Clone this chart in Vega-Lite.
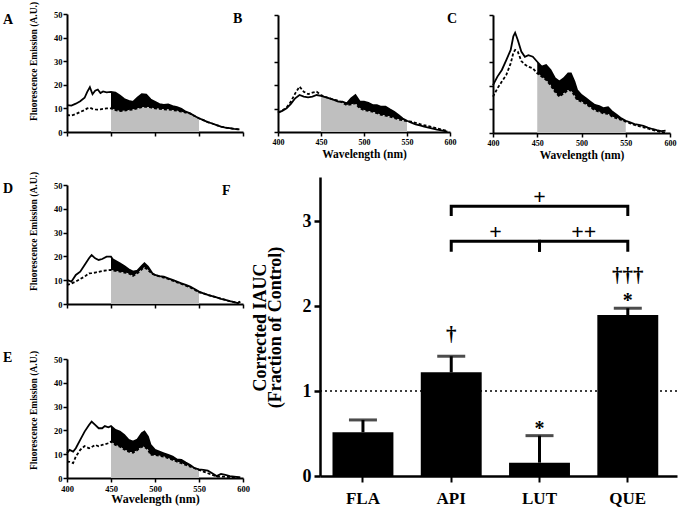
{
"$schema":"https://vega.github.io/schema/vega-lite/v6.json",
"width":678,"height":511,
"autosize":"none",
"padding":0,
"background":"white",
"config":{
 "font":"Liberation Serif",
 "view":{"stroke":null},
 "axis":{"domainColor":"black","tickColor":"black","labelColor":"black","titleColor":"black","labelFontWeight":"bold","titleFontWeight":"bold","grid":false,"labelFont":"Liberation Serif","titleFont":"Liberation Serif","labelFlush":false,"labelOverlap":false,"domainWidth":2,"tickWidth":1.5,"tickSize":4,"labelFontSize":8.5}
},
"datasets":{
 "spectra":[
  {"panel":"A","nm":400,"solid":11.4,"dashed":7.2},{"panel":"A","nm":405,"solid":11.2,"dashed":7.0},{"panel":"A","nm":410,"solid":12.0,"dashed":7.6},{"panel":"A","nm":415,"solid":13.0,"dashed":8.5},{"panel":"A","nm":420,"solid":14.5,"dashed":9.3},{"panel":"A","nm":423,"solid":17.0,"dashed":10.0},{"panel":"A","nm":426,"solid":19.0,"dashed":10.3},{"panel":"A","nm":429,"solid":16.0,"dashed":9.8},{"panel":"A","nm":432,"solid":17.5,"dashed":9.6},{"panel":"A","nm":435,"solid":18.0,"dashed":9.5},{"panel":"A","nm":438,"solid":16.5,"dashed":9.6},{"panel":"A","nm":441,"solid":17.2,"dashed":9.8},{"panel":"A","nm":445,"solid":16.8,"dashed":10.0},{"panel":"A","nm":450,"solid":17.0,"dashed":10.0},{"panel":"A","nm":455,"solid":16.7,"dashed":9.3},{"panel":"A","nm":460,"solid":15.5,"dashed":8.9},{"panel":"A","nm":465,"solid":14.0,"dashed":9.0},{"panel":"A","nm":470,"solid":13.2,"dashed":9.3},{"panel":"A","nm":475,"solid":12.8,"dashed":9.5},{"panel":"A","nm":480,"solid":14.5,"dashed":10.0},{"panel":"A","nm":485,"solid":16.0,"dashed":10.5},{"panel":"A","nm":490,"solid":15.8,"dashed":10.7},{"panel":"A","nm":495,"solid":13.8,"dashed":10.4},{"panel":"A","nm":500,"solid":12.8,"dashed":10.0},{"panel":"A","nm":505,"solid":11.8,"dashed":9.8},{"panel":"A","nm":510,"solid":11.5,"dashed":9.6},{"panel":"A","nm":515,"solid":11.7,"dashed":9.5},{"panel":"A","nm":520,"solid":11.0,"dashed":9.3},{"panel":"A","nm":525,"solid":10.5,"dashed":9.0},{"panel":"A","nm":530,"solid":9.8,"dashed":8.6},{"panel":"A","nm":535,"solid":8.6,"dashed":8.2},{"panel":"A","nm":540,"solid":7.9,"dashed":7.8},{"panel":"A","nm":545,"solid":6.8,"dashed":6.8},{"panel":"A","nm":550,"solid":5.8,"dashed":5.8},{"panel":"A","nm":555,"solid":5.0,"dashed":5.0},{"panel":"A","nm":560,"solid":4.2,"dashed":4.2},{"panel":"A","nm":565,"solid":3.6,"dashed":3.6},{"panel":"A","nm":570,"solid":2.9,"dashed":2.9},{"panel":"A","nm":575,"solid":2.3,"dashed":2.3},{"panel":"A","nm":580,"solid":1.9,"dashed":1.9},{"panel":"A","nm":585,"solid":1.6,"dashed":1.6},{"panel":"A","nm":590,"solid":1.3,"dashed":1.3},{"panel":"A","nm":596,"solid":1.1,"dashed":1.1},
  {"panel":"B","nm":400,"solid":8.3,"dashed":8.3},{"panel":"B","nm":405,"solid":9.0,"dashed":9.2},{"panel":"B","nm":410,"solid":10.1,"dashed":10.5},{"panel":"B","nm":415,"solid":12.0,"dashed":13.0},{"panel":"B","nm":420,"solid":14.4,"dashed":16.5},{"panel":"B","nm":425,"solid":15.8,"dashed":19.4},{"panel":"B","nm":430,"solid":15.1,"dashed":17.2},{"panel":"B","nm":435,"solid":14.8,"dashed":16.2},{"panel":"B","nm":440,"solid":15.1,"dashed":16.8},{"panel":"B","nm":445,"solid":15.8,"dashed":17.2},{"panel":"B","nm":450,"solid":15.4,"dashed":15.8},{"panel":"B","nm":455,"solid":14.9,"dashed":15.0},{"panel":"B","nm":460,"solid":14.4,"dashed":14.4},{"panel":"B","nm":465,"solid":13.7,"dashed":13.8},{"panel":"B","nm":470,"solid":13.0,"dashed":13.4},{"panel":"B","nm":475,"solid":13.0,"dashed":12.5},{"panel":"B","nm":480,"solid":12.3,"dashed":11.5},{"panel":"B","nm":485,"solid":14.4,"dashed":11.8},{"panel":"B","nm":490,"solid":15.8,"dashed":12.3},{"panel":"B","nm":495,"solid":13.0,"dashed":10.1},{"panel":"B","nm":500,"solid":13.0,"dashed":9.4},{"panel":"B","nm":505,"solid":12.5,"dashed":9.0},{"panel":"B","nm":510,"solid":11.5,"dashed":8.7},{"panel":"B","nm":515,"solid":11.5,"dashed":8.0},{"panel":"B","nm":520,"solid":10.8,"dashed":7.3},{"panel":"B","nm":525,"solid":10.8,"dashed":7.0},{"panel":"B","nm":530,"solid":9.7,"dashed":6.6},{"panel":"B","nm":535,"solid":8.7,"dashed":6.0},{"panel":"B","nm":540,"solid":7.3,"dashed":5.4},{"panel":"B","nm":545,"solid":5.8,"dashed":5.0},{"panel":"B","nm":550,"solid":4.8,"dashed":4.6},{"panel":"B","nm":555,"solid":4.0,"dashed":4.4},{"panel":"B","nm":560,"solid":3.3,"dashed":3.9},{"panel":"B","nm":565,"solid":2.8,"dashed":3.4},{"panel":"B","nm":570,"solid":2.3,"dashed":2.9},{"panel":"B","nm":575,"solid":1.9,"dashed":2.5},{"panel":"B","nm":580,"solid":1.4,"dashed":2.0},{"panel":"B","nm":585,"solid":1.0,"dashed":1.5},{"panel":"B","nm":590,"solid":0.7,"dashed":1.1},{"panel":"B","nm":597,"solid":0.2,"dashed":0.4},
  {"panel":"C","nm":400,"solid":20.3,"dashed":15.4},{"panel":"C","nm":405,"solid":23.9,"dashed":18.9},{"panel":"C","nm":410,"solid":26.7,"dashed":21.8},{"panel":"C","nm":415,"solid":30.9,"dashed":24.6},{"panel":"C","nm":420,"solid":35.2,"dashed":29.5},{"panel":"C","nm":423,"solid":41.0,"dashed":34.0},{"panel":"C","nm":425,"solid":42.5,"dashed":35.2},{"panel":"C","nm":428,"solid":39.4,"dashed":34.5},{"panel":"C","nm":432,"solid":34.5,"dashed":30.5},{"panel":"C","nm":436,"solid":32.3,"dashed":29.0},{"panel":"C","nm":440,"solid":33.0,"dashed":28.1},{"panel":"C","nm":445,"solid":32.3,"dashed":27.4},{"panel":"C","nm":450,"solid":30.2,"dashed":25.3},{"panel":"C","nm":455,"solid":28.1,"dashed":23.9},{"panel":"C","nm":460,"solid":28.8,"dashed":22.5},{"panel":"C","nm":465,"solid":26.7,"dashed":20.3},{"panel":"C","nm":470,"solid":23.2,"dashed":17.5},{"panel":"C","nm":475,"solid":21.8,"dashed":15.4},{"panel":"C","nm":480,"solid":23.2,"dashed":16.8},{"panel":"C","nm":485,"solid":25.3,"dashed":18.2},{"panel":"C","nm":488,"solid":25.3,"dashed":18.0},{"panel":"C","nm":492,"solid":21.8,"dashed":16.0},{"panel":"C","nm":495,"solid":18.2,"dashed":14.0},{"panel":"C","nm":500,"solid":16.1,"dashed":13.3},{"panel":"C","nm":505,"solid":14.7,"dashed":12.3},{"panel":"C","nm":510,"solid":13.3,"dashed":10.9},{"panel":"C","nm":515,"solid":11.9,"dashed":9.7},{"panel":"C","nm":520,"solid":11.4,"dashed":9.0},{"panel":"C","nm":525,"solid":10.5,"dashed":8.3},{"panel":"C","nm":530,"solid":10.9,"dashed":8.1},{"panel":"C","nm":535,"solid":9.0,"dashed":6.9},{"panel":"C","nm":540,"solid":7.6,"dashed":6.2},{"panel":"C","nm":545,"solid":6.2,"dashed":5.5},{"panel":"C","nm":550,"solid":5.2,"dashed":4.8},{"panel":"C","nm":555,"solid":4.5,"dashed":4.1},{"panel":"C","nm":560,"solid":3.8,"dashed":3.4},{"panel":"C","nm":565,"solid":3.4,"dashed":2.9},{"panel":"C","nm":570,"solid":3.0,"dashed":2.4},{"panel":"C","nm":575,"solid":2.3,"dashed":1.9},{"panel":"C","nm":580,"solid":1.7,"dashed":1.3},{"panel":"C","nm":585,"solid":1.2,"dashed":0.8},{"panel":"C","nm":590,"solid":0.8,"dashed":0.4},{"panel":"C","nm":595,"solid":1.0,"dashed":0.1},
  {"panel":"D","nm":400,"solid":10.1,"dashed":8.0},{"panel":"D","nm":405,"solid":9.4,"dashed":8.6},{"panel":"D","nm":410,"solid":12.2,"dashed":9.4},{"panel":"D","nm":415,"solid":13.6,"dashed":10.5},{"panel":"D","nm":420,"solid":16.4,"dashed":11.5},{"panel":"D","nm":425,"solid":19.2,"dashed":12.9},{"panel":"D","nm":428,"solid":20.6,"dashed":13.0},{"panel":"D","nm":432,"solid":19.2,"dashed":13.2},{"panel":"D","nm":436,"solid":18.5,"dashed":13.5},{"panel":"D","nm":440,"solid":18.9,"dashed":13.9},{"panel":"D","nm":445,"solid":19.9,"dashed":14.1},{"panel":"D","nm":450,"solid":19.9,"dashed":14.3},{"panel":"D","nm":452,"solid":18.8,"dashed":14.1},{"panel":"D","nm":455,"solid":18.2,"dashed":13.9},{"panel":"D","nm":460,"solid":17.1,"dashed":13.6},{"panel":"D","nm":465,"solid":16.0,"dashed":13.2},{"panel":"D","nm":470,"solid":14.6,"dashed":12.9},{"panel":"D","nm":475,"solid":13.6,"dashed":11.8},{"panel":"D","nm":480,"solid":14.0,"dashed":12.9},{"panel":"D","nm":485,"solid":16.0,"dashed":14.6},{"panel":"D","nm":488,"solid":17.1,"dashed":15.4},{"panel":"D","nm":492,"solid":15.7,"dashed":14.3},{"panel":"D","nm":497,"solid":12.9,"dashed":12.6},{"panel":"D","nm":500,"solid":12.2,"dashed":12.2},{"panel":"D","nm":505,"solid":11.7,"dashed":11.6},{"panel":"D","nm":510,"solid":11.5,"dashed":11.1},{"panel":"D","nm":515,"solid":10.8,"dashed":10.5},{"panel":"D","nm":520,"solid":10.1,"dashed":9.8},{"panel":"D","nm":525,"solid":9.4,"dashed":9.1},{"panel":"D","nm":530,"solid":8.7,"dashed":8.4},{"panel":"D","nm":535,"solid":8.0,"dashed":7.7},{"panel":"D","nm":540,"solid":7.3,"dashed":7.0},{"panel":"D","nm":545,"solid":6.3,"dashed":6.0},{"panel":"D","nm":550,"solid":5.2,"dashed":4.9},{"panel":"D","nm":555,"solid":4.5,"dashed":4.5},{"panel":"D","nm":560,"solid":3.8,"dashed":3.8},{"panel":"D","nm":565,"solid":3.3,"dashed":3.3},{"panel":"D","nm":570,"solid":2.8,"dashed":2.8},{"panel":"D","nm":575,"solid":2.2,"dashed":2.2},{"panel":"D","nm":580,"solid":1.7,"dashed":1.7},{"panel":"D","nm":585,"solid":1.2,"dashed":1.2},{"panel":"D","nm":590,"solid":0.8,"dashed":0.8},{"panel":"D","nm":594,"solid":0.4,"dashed":0.4},{"panel":"D","nm":597,"solid":1.0,"dashed":1.0},
  {"panel":"E","nm":400,"solid":10.4,"dashed":6.9},{"panel":"E","nm":403,"solid":11.8,"dashed":6.8},{"panel":"E","nm":407,"solid":11.1,"dashed":6.3},{"panel":"E","nm":410,"solid":12.5,"dashed":9.0},{"panel":"E","nm":415,"solid":16.0,"dashed":11.8},{"panel":"E","nm":420,"solid":19.5,"dashed":13.4},{"panel":"E","nm":425,"solid":22.3,"dashed":12.5},{"panel":"E","nm":428,"solid":23.7,"dashed":13.0},{"panel":"E","nm":432,"solid":22.3,"dashed":13.9},{"panel":"E","nm":436,"solid":20.9,"dashed":13.3},{"panel":"E","nm":440,"solid":20.9,"dashed":13.9},{"panel":"E","nm":443,"solid":21.8,"dashed":14.2},{"panel":"E","nm":447,"solid":21.3,"dashed":14.6},{"panel":"E","nm":450,"solid":21.8,"dashed":15.3},{"panel":"E","nm":455,"solid":20.2,"dashed":13.9},{"panel":"E","nm":460,"solid":19.5,"dashed":13.2},{"panel":"E","nm":465,"solid":18.1,"dashed":12.0},{"panel":"E","nm":470,"solid":16.0,"dashed":11.1},{"panel":"E","nm":475,"solid":15.3,"dashed":10.6},{"panel":"E","nm":480,"solid":16.2,"dashed":11.8},{"panel":"E","nm":485,"solid":18.8,"dashed":13.2},{"panel":"E","nm":488,"solid":19.5,"dashed":13.0},{"panel":"E","nm":492,"solid":17.4,"dashed":12.0},{"panel":"E","nm":495,"solid":13.9,"dashed":9.7},{"panel":"E","nm":500,"solid":11.8,"dashed":9.7},{"panel":"E","nm":505,"solid":11.1,"dashed":9.3},{"panel":"E","nm":510,"solid":10.4,"dashed":9.0},{"panel":"E","nm":515,"solid":9.7,"dashed":8.3},{"panel":"E","nm":520,"solid":9.0,"dashed":7.6},{"panel":"E","nm":525,"solid":7.8,"dashed":6.9},{"panel":"E","nm":530,"solid":7.6,"dashed":6.2},{"panel":"E","nm":535,"solid":6.5,"dashed":5.5},{"panel":"E","nm":540,"solid":5.5,"dashed":4.8},{"panel":"E","nm":545,"solid":4.1,"dashed":4.1},{"panel":"E","nm":550,"solid":3.6,"dashed":3.4},{"panel":"E","nm":555,"solid":3.4,"dashed":2.7},{"panel":"E","nm":560,"solid":3.1,"dashed":2.0},{"panel":"E","nm":565,"solid":2.0,"dashed":1.3},{"panel":"E","nm":570,"solid":0.8,"dashed":0.6},{"panel":"E","nm":575,"solid":1.7,"dashed":0.6},{"panel":"E","nm":580,"solid":1.3,"dashed":0.6},{"panel":"E","nm":585,"solid":0.8,"dashed":0.4},{"panel":"E","nm":590,"solid":0.6,"dashed":0.3},{"panel":"E","nm":597,"solid":0.3,"dashed":0.1}
 ],
 "bars":[
  {"agent":"FLA","mean":0.515,"upper":0.66},
  {"agent":"API","mean":1.22,"upper":1.41},
  {"agent":"LUT","mean":0.157,"upper":0.475},
  {"agent":"QUE","mean":1.894,"upper":1.975}
 ],
 "brackets":[
  {"bracket":"top","agent":"API","y":3.06,"step":1},{"bracket":"top","agent":"API","y":3.176,"step":2},{"bracket":"top","agent":"QUE","y":3.176,"step":3},{"bracket":"top","agent":"QUE","y":3.06,"step":4},
  {"bracket":"al","agent":"API","y":2.64,"step":1},{"bracket":"al","agent":"API","y":2.765,"step":2},{"bracket":"al","agent":"LUT","y":2.765,"step":3},{"bracket":"al","agent":"LUT","y":2.64,"step":4},
  {"bracket":"lq","agent":"LUT","y":2.64,"step":1},{"bracket":"lq","agent":"LUT","y":2.765,"step":2},{"bracket":"lq","agent":"QUE","y":2.765,"step":3},{"bracket":"lq","agent":"QUE","y":2.64,"step":4}
 ],
 "notes":[
  {"agent":"LUT","y":3.29,"label":"+","between":false},
  {"agent":"API","y":2.87,"label":"+","between":true},
  {"agent":"LUT","y":2.87,"label":"++","between":true},
  {"agent":"API","y":1.66,"label":"†","between":false},
  {"agent":"QUE","y":2.35,"label":"†††","between":false},
  {"agent":"LUT","y":0.55,"label":"*","between":false},
  {"agent":"QUE","y":2.06,"label":"*","between":false}
 ],
 "letters":[
  {"panel":"A","letter":"A","nm":327.3,"value":45.8},
  {"panel":"A","letter":"F","nm":576,"value":-26.7},
  {"panel":"B","letter":"B","nm":347.7,"value":46.6},
  {"panel":"C","letter":"C","nm":348,"value":46.6},
  {"panel":"D","letter":"D","nm":327.3,"value":46.6},
  {"panel":"E","letter":"E","nm":327.3,"value":48.7}
 ]
},
"resolve":{"scale":{"x":"independent","y":"independent"},"axis":{"x":"independent","y":"independent"}},
"layer":[
 {"data":{"name":"spectra"},"transform":[{"filter":"datum.panel==='A'"}],
  "encoding":{"x":{"field":"nm","type":"quantitative","scale":{"domain":[400,600],"range":[67,243],"nice":false},"axis":{"orient":"bottom","offset":-379,"values":[400,450,500,550,600],"labels":false,"title":null}},
    "y":{"field":"dashed","type":"quantitative","scale":{"domain":[0,50],"range":[132,14],"nice":false},"axis":{"orient":"left","offset":-67,"values":[0,10,20,30,40,50],"title":"Fluorescence  Emission (A.U.)","labelPadding":1,"titleFontSize":9.5,"titleX":-34,"titleY":61,"titleAlign":"center","titleBaseline":"middle","titleAngle":-90}}},
  "layer":[
   {"transform":[{"filter":"datum.nm>=450 && datum.nm<=550"}],"mark":{"type":"area","color":"black"},"encoding":{"y2":{"field":"solid"}}},
   {"transform":[{"filter":"datum.nm>=450 && datum.nm<=550"}],"mark":{"type":"area","color":"#bfbfbf"},"encoding":{}},
   {"mark":{"type":"line","color":"black","strokeWidth":1.8},"encoding":{"y":{"field":"solid","type":"quantitative","axis":{"orient":"left","offset":-67,"values":[0,10,20,30,40,50],"title":"Fluorescence  Emission (A.U.)","labelPadding":1,"titleFontSize":9.5,"titleX":-34,"titleY":61,"titleAlign":"center","titleBaseline":"middle","titleAngle":-90}}}},
   {"mark":{"type":"line","color":"black","strokeWidth":1.8,"strokeDash":[3,2]},"encoding":{}},
   {"data":{"name":"letters"},"transform":[{"filter":"datum.panel==='A'"}],"mark":{"type":"text","fontSize":14,"fontWeight":"bold","align":"left","baseline":"alphabetic","color":"black"},"encoding":{"x":{"field":"nm","type":"quantitative"},"y":{"field":"value","type":"quantitative","axis":{"orient":"left","offset":-67,"values":[0,10,20,30,40,50],"title":"Fluorescence  Emission (A.U.)","labelPadding":1,"titleFontSize":9.5,"titleX":-34,"titleY":61,"titleAlign":"center","titleBaseline":"middle","titleAngle":-90}},"text":{"field":"letter"}}}
  ]},
 {"data":{"name":"spectra"},"transform":[{"filter":"datum.panel==='B'"}],
  "encoding":{"x":{"field":"nm","type":"quantitative","scale":{"domain":[400,600],"range":[278,450],"nice":false},"axis":{"orient":"bottom","offset":-379,"values":[400,450,500,550,600],"title":"Wavelength (nm)","labelFontSize":8,"titleFontSize":11.5,"labelPadding":2,"titlePadding":2}},
    "y":{"field":"dashed","type":"quantitative","scale":{"domain":[0,50],"range":[132,15],"nice":false},"axis":{"orient":"left","offset":-278,"values":[0,10,20,30,40,50],"title":null,"labels":false}}},
  "layer":[
   {"transform":[{"filter":"datum.nm>=450 && datum.nm<=550"}],"mark":{"type":"area","color":"black"},"encoding":{"y2":{"field":"solid"}}},
   {"transform":[{"filter":"datum.nm>=450 && datum.nm<=550"}],"mark":{"type":"area","color":"#bfbfbf"},"encoding":{}},
   {"mark":{"type":"line","color":"black","strokeWidth":1.8},"encoding":{"y":{"field":"solid","type":"quantitative","axis":{"orient":"left","offset":-278,"values":[0,10,20,30,40,50],"title":null,"labels":false}}}},
   {"mark":{"type":"line","color":"black","strokeWidth":1.8,"strokeDash":[3,2]},"encoding":{}},
   {"data":{"name":"letters"},"transform":[{"filter":"datum.panel==='B'"}],"mark":{"type":"text","fontSize":14,"fontWeight":"bold","align":"left","baseline":"alphabetic","color":"black"},"encoding":{"x":{"field":"nm","type":"quantitative"},"y":{"field":"value","type":"quantitative","axis":{"orient":"left","offset":-278,"values":[0,10,20,30,40,50],"title":null,"labels":false}},"text":{"field":"letter"}}}
  ]},
 {"data":{"name":"spectra"},"transform":[{"filter":"datum.panel==='C'"}],
  "encoding":{"x":{"field":"nm","type":"quantitative","scale":{"domain":[400,600],"range":[493,670],"nice":false},"axis":{"orient":"bottom","offset":-378,"values":[400,450,500,550,600],"title":"Wavelength (nm)","labelFontSize":8,"titleFontSize":11.5,"labelPadding":2,"titlePadding":2}},
    "y":{"field":"dashed","type":"quantitative","scale":{"domain":[0,50],"range":[133,15],"nice":false},"axis":{"orient":"left","offset":-493,"values":[0,10,20,30,40,50],"title":null,"labels":false}}},
  "layer":[
   {"transform":[{"filter":"datum.nm>=450 && datum.nm<=550"}],"mark":{"type":"area","color":"black"},"encoding":{"y2":{"field":"solid"}}},
   {"transform":[{"filter":"datum.nm>=450 && datum.nm<=550"}],"mark":{"type":"area","color":"#bfbfbf"},"encoding":{}},
   {"mark":{"type":"line","color":"black","strokeWidth":1.8},"encoding":{"y":{"field":"solid","type":"quantitative","axis":{"orient":"left","offset":-493,"values":[0,10,20,30,40,50],"title":null,"labels":false}}}},
   {"mark":{"type":"line","color":"black","strokeWidth":1.8,"strokeDash":[3,2]},"encoding":{}},
   {"data":{"name":"letters"},"transform":[{"filter":"datum.panel==='C'"}],"mark":{"type":"text","fontSize":14,"fontWeight":"bold","align":"left","baseline":"alphabetic","color":"black"},"encoding":{"x":{"field":"nm","type":"quantitative"},"y":{"field":"value","type":"quantitative","axis":{"orient":"left","offset":-493,"values":[0,10,20,30,40,50],"title":null,"labels":false}},"text":{"field":"letter"}}}
  ]},
 {"data":{"name":"spectra"},"transform":[{"filter":"datum.panel==='D'"}],
  "encoding":{"x":{"field":"nm","type":"quantitative","scale":{"domain":[400,600],"range":[67,243],"nice":false},"axis":{"orient":"bottom","offset":-207,"values":[400,450,500,550,600],"labels":false,"title":null}},
    "y":{"field":"dashed","type":"quantitative","scale":{"domain":[0,50],"range":[304,185],"nice":false},"axis":{"orient":"left","offset":-67,"values":[0,10,20,30,40,50],"title":"Fluorescence  Emission (A.U.)","labelPadding":1,"titleFontSize":9.5,"titleX":-34,"titleY":231,"titleAlign":"center","titleBaseline":"middle","titleAngle":-90}}},
  "layer":[
   {"transform":[{"filter":"datum.nm>=450 && datum.nm<=550"}],"mark":{"type":"area","color":"black"},"encoding":{"y2":{"field":"solid"}}},
   {"transform":[{"filter":"datum.nm>=450 && datum.nm<=550"}],"mark":{"type":"area","color":"#bfbfbf"},"encoding":{}},
   {"mark":{"type":"line","color":"black","strokeWidth":1.8},"encoding":{"y":{"field":"solid","type":"quantitative","axis":{"orient":"left","offset":-67,"values":[0,10,20,30,40,50],"title":"Fluorescence  Emission (A.U.)","labelPadding":1,"titleFontSize":9.5,"titleX":-34,"titleY":231,"titleAlign":"center","titleBaseline":"middle","titleAngle":-90}}}},
   {"mark":{"type":"line","color":"black","strokeWidth":1.8,"strokeDash":[3,2]},"encoding":{}},
   {"data":{"name":"letters"},"transform":[{"filter":"datum.panel==='D'"}],"mark":{"type":"text","fontSize":14,"fontWeight":"bold","align":"left","baseline":"alphabetic","color":"black"},"encoding":{"x":{"field":"nm","type":"quantitative"},"y":{"field":"value","type":"quantitative","axis":{"orient":"left","offset":-67,"values":[0,10,20,30,40,50],"title":"Fluorescence  Emission (A.U.)","labelPadding":1,"titleFontSize":9.5,"titleX":-34,"titleY":231,"titleAlign":"center","titleBaseline":"middle","titleAngle":-90}},"text":{"field":"letter"}}}
  ]},
 {"data":{"name":"spectra"},"transform":[{"filter":"datum.panel==='E'"}],
  "encoding":{"x":{"field":"nm","type":"quantitative","scale":{"domain":[400,600],"range":[67,243],"nice":false},"axis":{"orient":"bottom","offset":-33,"values":[400,450,500,550,600],"title":"Wavelength (nm)","labelFontSize":8.5,"titleFontSize":12,"labelPadding":2,"titlePadding":1}},
    "y":{"field":"dashed","type":"quantitative","scale":{"domain":[0,50],"range":[478,359],"nice":false},"axis":{"orient":"left","offset":-67,"values":[0,10,20,30,40,50],"title":"Fluorescence  Emission (A.U.)","labelPadding":1,"titleFontSize":9.5,"titleX":-34,"titleY":410,"titleAlign":"center","titleBaseline":"middle","titleAngle":-90}}},
  "layer":[
   {"transform":[{"filter":"datum.nm>=450 && datum.nm<=550"}],"mark":{"type":"area","color":"black"},"encoding":{"y2":{"field":"solid"}}},
   {"transform":[{"filter":"datum.nm>=450 && datum.nm<=550"}],"mark":{"type":"area","color":"#bfbfbf"},"encoding":{}},
   {"mark":{"type":"line","color":"black","strokeWidth":1.8},"encoding":{"y":{"field":"solid","type":"quantitative","axis":{"orient":"left","offset":-67,"values":[0,10,20,30,40,50],"title":"Fluorescence  Emission (A.U.)","labelPadding":1,"titleFontSize":9.5,"titleX":-34,"titleY":410,"titleAlign":"center","titleBaseline":"middle","titleAngle":-90}}}},
   {"mark":{"type":"line","color":"black","strokeWidth":1.8,"strokeDash":[3,2]},"encoding":{}},
   {"data":{"name":"letters"},"transform":[{"filter":"datum.panel==='E'"}],"mark":{"type":"text","fontSize":14,"fontWeight":"bold","align":"left","baseline":"alphabetic","color":"black"},"encoding":{"x":{"field":"nm","type":"quantitative"},"y":{"field":"value","type":"quantitative","axis":{"orient":"left","offset":-67,"values":[0,10,20,30,40,50],"title":"Fluorescence  Emission (A.U.)","labelPadding":1,"titleFontSize":9.5,"titleX":-34,"titleY":410,"titleAlign":"center","titleBaseline":"middle","titleAngle":-90}},"text":{"field":"letter"}}}
  ]},
 {"encoding":{"x":{"field":"agent","type":"nominal","sort":["FLA","API","LUT","QUE"],"scale":{"range":[320,677],"paddingInner":0.31,"paddingOuter":0.177,"align":0.4},"axis":{"orient":"bottom","offset":-35,"title":null,"labelAngle":0,"labelFontSize":17,"domainWidth":2.5,"tickWidth":2,"tickSize":6,"labelPadding":8}}},
  "layer":[
   {"data":{"name":"bars"},"mark":{"type":"bar","color":"black"},"encoding":{"y":{"field":"mean","type":"quantitative","scale":{"domain":[0,3.52],"range":[476,177],"nice":false,"zero":true},"axis":{"orient":"left","offset":-320,"values":[0,1,2,3],"format":"d","title":["Corrected  IAUC","(Fraction of Control)"],"titleFontSize":18,"labelFontSize":18,"domainWidth":2.5,"tickWidth":2.5,"tickSize":6,"labelPadding":3,"titleX":-60,"titleY":327,"titleAngle":-90,"titleAlign":"center","titleBaseline":"middle","titleLineHeight":15}}}},
   {"data":{"name":"bars"},"mark":{"type":"rule","color":"black","strokeWidth":3},"encoding":{"y":{"field":"mean","type":"quantitative"},"y2":{"field":"upper"}}},
   {"data":{"name":"bars"},"mark":{"type":"tick","color":"black","size":28,"thickness":3},"encoding":{"y":{"field":"upper","type":"quantitative"}}},
   {"data":{"name":"brackets"},"mark":{"type":"line","color":"black","strokeWidth":3},"encoding":{"y":{"field":"y","type":"quantitative"},"detail":{"field":"bracket"},"order":{"field":"step"}}},
   {"data":{"name":"notes"},"transform":[{"filter":"datum.label==='+' && !datum.between"}],"mark":{"type":"text","fontWeight":"bold","fontSize":22,"baseline":"middle","color":"black"},"encoding":{"y":{"field":"y","type":"quantitative"},"text":{"field":"label"}}},
   {"data":{"name":"notes"},"transform":[{"filter":"datum.between"}],"mark":{"type":"text","fontWeight":"bold","fontSize":22,"baseline":"middle","color":"black"},"encoding":{"x":{"field":"agent","type":"nominal","sort":["FLA","API","LUT","QUE"],"bandPosition":1.225},"y":{"field":"y","type":"quantitative"},"text":{"field":"label"}}},
   {"data":{"name":"notes"},"transform":[{"filter":"datum.label==='†' || datum.label==='†††'"}],"mark":{"type":"text","fontWeight":"bold","fontSize":21,"baseline":"middle","color":"black"},"encoding":{"y":{"field":"y","type":"quantitative"},"text":{"field":"label"}}},
   {"data":{"name":"notes"},"transform":[{"filter":"datum.label==='*'"}],"mark":{"type":"text","fontWeight":"bold","fontSize":20,"baseline":"middle","color":"black"},"encoding":{"y":{"field":"y","type":"quantitative"},"text":{"field":"label"}}}
  ]},
 {"data":{"values":[{"ref":1}]},"mark":{"type":"rule","color":"black","strokeWidth":1.5,"strokeDash":[2,3]},
  "encoding":{"x":{"datum":0,"type":"quantitative","scale":{"domain":[0,1],"range":[320,677],"nice":false},"axis":null},"x2":{"datum":1},"y":{"field":"ref","type":"quantitative","scale":{"domain":[0,3.52],"range":[476,177],"nice":false},"axis":null}}}
]
}
